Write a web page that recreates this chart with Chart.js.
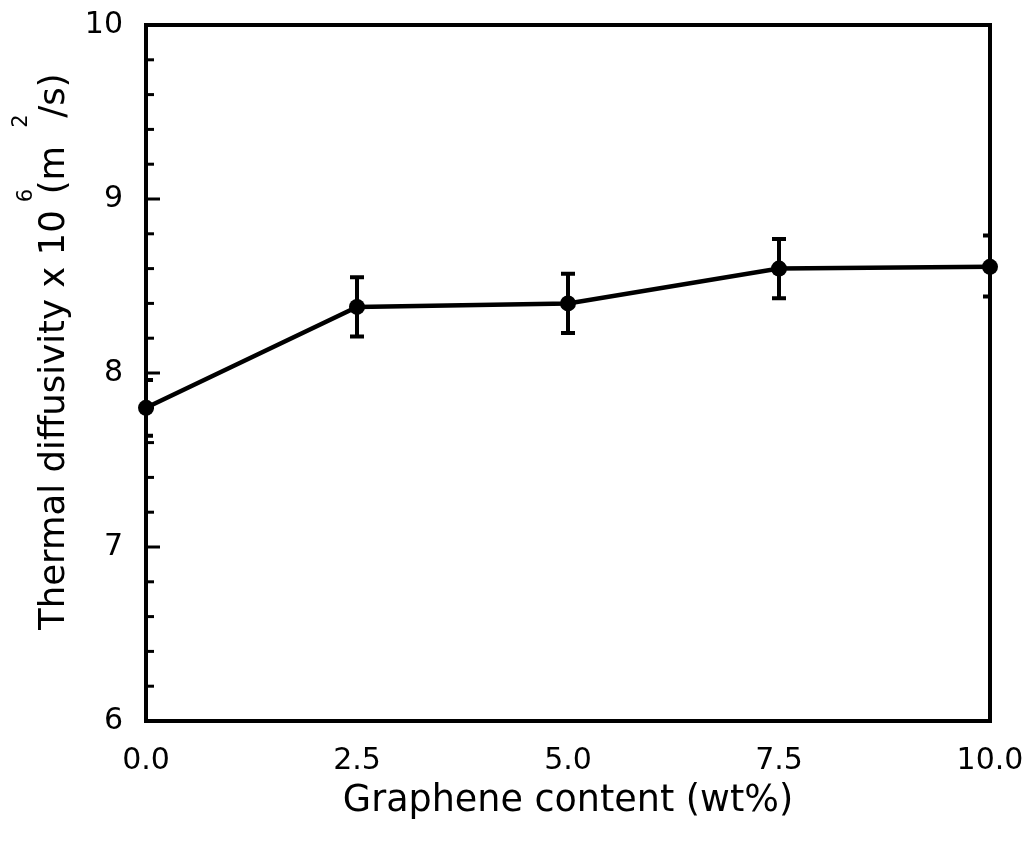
<!DOCTYPE html>
<html>
<head>
<meta charset="utf-8">
<script src="https://cdn.jsdelivr.net/npm/chart.js@4.4.0/dist/chart.umd.min.js"></script>
<style>
  html, body { margin: 0; padding: 0; background: #fff; }
  #wrap { width: 1028px; height: 846px; }
</style>
</head>
<body>
<div id="wrap"><canvas id="chart" width="1028" height="846"></canvas></div>
<script>
// data
const grapheneContent = [0, 2.5, 5, 7.5, 10];
const diffusivity = [7.80, 8.38, 8.40, 8.60, 8.61];
const diffLow = [7.64, 8.21, 8.23, 8.43, 8.44];
const diffHigh = [7.96, 8.55, 8.57, 8.77, 8.79];

const xTicks = [0, 2.5, 5, 7.5, 10];
const yMajorTicks = [6, 7, 8, 9, 10];
const yMinorTicks = [6.2, 6.4, 6.6, 6.8, 7.2, 7.4, 7.6, 7.8, 8.2, 8.4, 8.6, 8.8, 9.2, 9.4, 9.6, 9.8];

const FONT = "'DejaVu Sans', sans-serif";

// error bars, clipped to the plot box
const errorBars = {
  id: 'errorBars',
  beforeDatasetsDraw(chart) {
    const { ctx, chartArea: a, scales: { x, y } } = chart;
    ctx.save();
    ctx.beginPath();
    ctx.rect(a.left, a.top, a.right - a.left, a.bottom - a.top);
    ctx.clip();
    ctx.strokeStyle = '#000';
    ctx.lineWidth = 4;
    grapheneContent.forEach((g, i) => {
      const px = x.getPixelForValue(g);
      const lo = y.getPixelForValue(diffLow[i]);
      const hi = y.getPixelForValue(diffHigh[i]);
      ctx.beginPath();
      ctx.moveTo(px, lo); ctx.lineTo(px, hi);
      ctx.moveTo(px - 7, lo); ctx.lineTo(px + 7, lo);
      ctx.moveTo(px - 7, hi); ctx.lineTo(px + 7, hi);
      ctx.stroke();
    });
    ctx.restore();
  }
};

// box frame + inward ticks on the left axis
const frame = {
  id: 'frame',
  beforeDatasetsDraw(chart) {
    const { ctx, chartArea: a, scales: { y } } = chart;
    ctx.save();
    ctx.strokeStyle = '#000';
    ctx.lineWidth = 3;
    yMajorTicks.forEach(v => {
      const py = y.getPixelForValue(v);
      ctx.beginPath(); ctx.moveTo(a.left, py); ctx.lineTo(a.left + 14, py); ctx.stroke();
    });
    yMinorTicks.forEach(v => {
      const py = y.getPixelForValue(v);
      ctx.beginPath(); ctx.moveTo(a.left, py); ctx.lineTo(a.left + 8, py); ctx.stroke();
    });
    ctx.lineWidth = 4;
    ctx.strokeRect(a.left, a.top, a.right - a.left, a.bottom - a.top);
    ctx.restore();
  }
};

// axis titles (y one has superscripts)
const axisTitles = {
  id: 'axisTitles',
  afterDraw(chart) {
    const { ctx } = chart;
    ctx.save();
    ctx.fillStyle = '#000';
    ctx.textBaseline = 'alphabetic';
    ctx.font = `36.5px ${FONT}`;
    ctx.textAlign = 'center';
    ctx.fillText('Graphene content (wt%)', 568, 811);

    ctx.translate(64, 630);
    ctx.rotate(-Math.PI / 2);
    ctx.textAlign = 'left';
    const big = `35.5px ${FONT}`, small = `21px ${FONT}`;
    ctx.font = big;
    const main = 'Thermal diffusivity x 10';
    ctx.fillText(main, 0, 0);
    const e = ctx.measureText(main).width;
    ctx.fillText('(m', e + 16, 0);
    const m = e + 16 + ctx.measureText('(m').width;
    ctx.fillText('/s)', m + 28, 0);
    ctx.font = small;
    ctx.fillText('6', e + 8, -32);
    ctx.fillText('2', m + 18, -37);
    ctx.restore();
  }
};

new Chart(document.getElementById('chart'), {
  type: 'scatter',
  data: {
    datasets: [{
      data: grapheneContent.map((g, i) => ({ x: g, y: diffusivity[i] })),
      showLine: true,
      borderColor: '#000',
      backgroundColor: '#000',
      borderWidth: 4.5,
      pointRadius: 8,
      pointHoverRadius: 8,
      pointBackgroundColor: '#000',
      pointBorderWidth: 0,
      tension: 0,
      clip: false
    }]
  },
  options: {
    responsive: false,
    animation: false,
    events: [],
    layout: { padding: { left: 0, top: 25, right: 38, bottom: 0 } },
    plugins: { legend: { display: false }, tooltip: { enabled: false } },
    scales: {
      x: {
        type: 'linear',
        min: 0, max: 10,
        afterBuildTicks: s => { s.ticks = xTicks.map(v => ({ value: v })); },
        afterFit: s => { s.height = 125; s.paddingLeft = 0; s.paddingRight = 0; },
        grid: { display: false, drawTicks: false },
        border: { display: false },
        ticks: {
          color: '#000',
          font: { family: FONT, size: 30 },
          padding: 22,
          maxRotation: 0,
          callback: v => Number(v).toFixed(1)
        }
      },
      y: {
        min: 6, max: 10,
        afterBuildTicks: s => { s.ticks = yMajorTicks.map(v => ({ value: v })); },
        afterFit: s => { s.width = 146; s.paddingTop = 0; s.paddingBottom = 0; },
        grid: { display: false, drawTicks: false },
        border: { display: false },
        ticks: {
          color: '#000',
          font: { family: FONT, size: 30 },
          padding: 23
        }
      }
    }
  },
  plugins: [errorBars, frame, axisTitles]
});
</script>
</body>
</html>
